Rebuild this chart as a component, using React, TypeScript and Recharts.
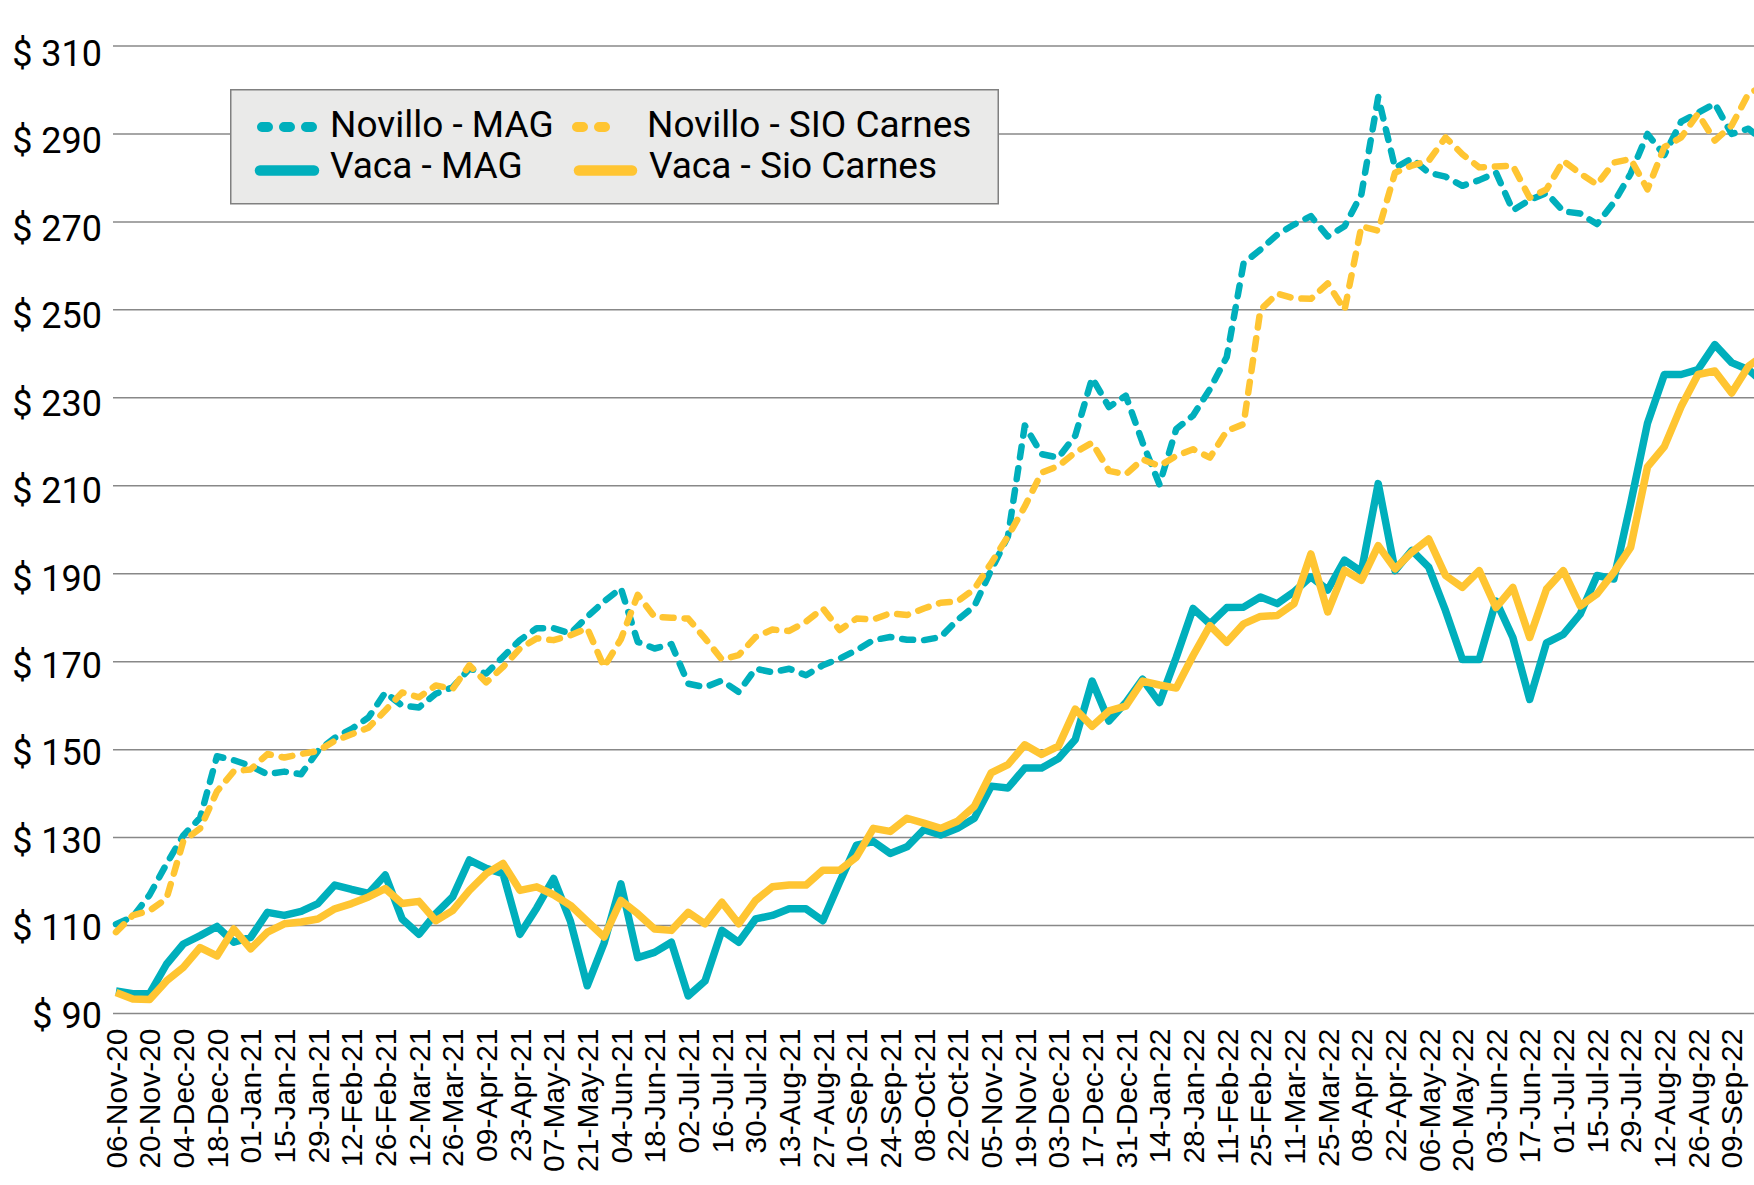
import React from 'react';
import { LineChart, Line, XAxis, YAxis, CartesianGrid, Legend } from 'recharts';

// weekly dates, only every second one gets a label
const dates = [
  '06-Nov-20', '13-Nov-20', '20-Nov-20', '27-Nov-20', '04-Dec-20', '11-Dec-20', '18-Dec-20', '25-Dec-20',
  '01-Jan-21', '08-Jan-21', '15-Jan-21', '22-Jan-21', '29-Jan-21', '05-Feb-21', '12-Feb-21', '19-Feb-21',
  '26-Feb-21', '05-Mar-21', '12-Mar-21', '19-Mar-21', '26-Mar-21', '02-Apr-21', '09-Apr-21', '16-Apr-21',
  '23-Apr-21', '30-Apr-21', '07-May-21', '14-May-21', '21-May-21', '28-May-21', '04-Jun-21', '11-Jun-21',
  '18-Jun-21', '25-Jun-21', '02-Jul-21', '09-Jul-21', '16-Jul-21', '23-Jul-21', '30-Jul-21', '06-Aug-21',
  '13-Aug-21', '20-Aug-21', '27-Aug-21', '03-Sep-21', '10-Sep-21', '17-Sep-21', '24-Sep-21', '01-Oct-21',
  '08-Oct-21', '15-Oct-21', '22-Oct-21', '29-Oct-21', '05-Nov-21', '12-Nov-21', '19-Nov-21', '26-Nov-21',
  '03-Dec-21', '10-Dec-21', '17-Dec-21', '24-Dec-21', '31-Dec-21', '07-Jan-22', '14-Jan-22', '21-Jan-22',
  '28-Jan-22', '04-Feb-22', '11-Feb-22', '18-Feb-22', '25-Feb-22', '04-Mar-22', '11-Mar-22', '18-Mar-22',
  '25-Mar-22', '01-Apr-22', '08-Apr-22', '15-Apr-22', '22-Apr-22', '29-Apr-22', '06-May-22', '13-May-22',
  '20-May-22', '27-May-22', '03-Jun-22', '10-Jun-22', '17-Jun-22', '24-Jun-22', '01-Jul-22', '08-Jul-22',
  '15-Jul-22', '22-Jul-22', '29-Jul-22', '05-Aug-22', '12-Aug-22', '19-Aug-22', '26-Aug-22', '02-Sep-22',
  '09-Sep-22', '16-Sep-22', '23-Sep-22',
];

// labelled dates (the last two weeks run past the right edge unlabelled)
const xTicks = [
  '06-Nov-20', '20-Nov-20', '04-Dec-20', '18-Dec-20', '01-Jan-21', '15-Jan-21', '29-Jan-21', '12-Feb-21',
  '26-Feb-21', '12-Mar-21', '26-Mar-21', '09-Apr-21', '23-Apr-21', '07-May-21', '21-May-21', '04-Jun-21',
  '18-Jun-21', '02-Jul-21', '16-Jul-21', '30-Jul-21', '13-Aug-21', '27-Aug-21', '10-Sep-21', '24-Sep-21',
  '08-Oct-21', '22-Oct-21', '05-Nov-21', '19-Nov-21', '03-Dec-21', '17-Dec-21', '31-Dec-21', '14-Jan-22',
  '28-Jan-22', '11-Feb-22', '25-Feb-22', '11-Mar-22', '25-Mar-22', '08-Apr-22', '22-Apr-22', '06-May-22',
  '20-May-22', '03-Jun-22', '17-Jun-22', '01-Jul-22', '15-Jul-22', '29-Jul-22', '12-Aug-22', '26-Aug-22',
  '09-Sep-22',
];

const novilloMag = [
  110.3, 112.0, 117.0, 124.0, 130.5, 134.5, 148.5, 147.6, 146.3, 144.4,
  145.0, 144.4, 149.7, 152.7, 154.7, 157.3, 163.0, 160.0, 159.6, 162.7,
  164.2, 168.4, 167.3, 171.1, 174.9, 177.6, 177.6, 176.4, 180.2, 183.7,
  186.7, 174.5, 173.0, 174.0, 165.0, 164.2, 165.7, 163.1, 168.4, 167.6,
  168.4, 166.9, 169.2, 170.7, 172.6, 174.9, 175.6, 175.0, 174.9, 175.6,
  179.5, 182.6, 190.8, 198.5, 223.7, 217.2, 216.4, 221.4, 234.5, 227.9,
  230.5, 219.8, 210.3, 222.9, 226.0, 232.0, 239.3, 260.6, 263.7, 267.1,
  269.4, 271.3, 266.7, 269.0, 276.3, 298.4, 282.3, 284.4, 281.2, 280.3,
  278.2, 279.5, 281.2, 272.6, 275.0, 276.6, 272.4, 271.9, 269.5, 274.4,
  281.0, 290.0, 285.2, 292.8, 294.8, 296.9, 290.0, 291.2, 288.0,
];

const novilloSio = [
  108.5, 112.3, 113.4, 116.1, 129.2, 132.1, 140.5, 145.1, 145.5, 149.0,
  148.2, 149.0, 149.7, 152.0, 153.5, 155.0, 158.9, 163.0, 161.9, 164.6,
  163.8, 169.2, 165.3, 168.8, 173.0, 175.3, 174.9, 176.0, 177.6, 168.8,
  175.1, 185.2, 180.2, 180.0, 179.8, 175.3, 170.5, 171.5, 175.6, 177.3,
  177.0, 179.1, 182.1, 177.2, 179.8, 179.6, 181.0, 180.6, 182.1, 183.4,
  183.7, 186.5, 192.4, 198.5, 205.3, 213.0, 214.5, 217.6, 219.8, 213.4,
  212.6, 216.0, 214.5, 216.8, 218.3, 216.4, 222.5, 224.0, 250.0, 253.7,
  252.6, 252.5, 256.0, 250.0, 269.0, 268.0, 281.2, 282.8, 283.9, 289.2,
  285.4, 282.4, 282.6, 282.8, 275.5, 277.4, 283.9, 281.0, 278.5, 283.5,
  284.3, 277.4, 287.0, 289.2, 294.6, 288.5, 291.9, 299.2, 301.0,
];

const vacaMag = [
  95.1, 94.5, 94.5, 101.2, 105.8, 107.7, 109.8, 106.2, 107.3, 113.0,
  112.3, 113.2, 115.0, 119.2, 118.2, 117.3, 121.5, 111.5, 108.0, 112.7,
  116.5, 124.9, 123.0, 121.8, 108.0, 114.0, 120.7, 111.0, 96.3, 106.0,
  119.5, 102.7, 103.9, 106.2, 94.0, 97.4, 108.9, 106.2, 111.5, 112.3,
  113.8, 113.8, 111.1, 119.9, 128.3, 129.1, 126.4, 127.9, 131.8, 130.6,
  132.1, 134.4, 141.7, 141.3, 145.8, 145.8, 148.0, 152.3, 165.6, 156.5,
  160.7, 166.0, 160.7, 171.0, 182.1, 178.6, 182.3, 182.4, 184.7, 183.2,
  185.9, 189.3, 186.3, 193.1, 190.5, 210.5, 190.7, 195.3, 191.5, 181.6,
  170.5, 170.5, 183.8, 175.5, 161.4, 174.3, 176.2, 180.8, 189.6, 188.8,
  206.0, 224.2, 235.3, 235.3, 236.4, 242.1, 238.0, 236.4, 233.0,
];

const vacaSio = [
  94.8, 93.3, 93.2, 97.4, 100.5, 105.0, 103.1, 109.2, 104.7, 108.5,
  110.4, 110.8, 111.5, 113.8, 115.0, 116.5, 118.4, 115.0, 115.5, 111.1,
  113.4, 118.0, 121.8, 124.1, 118.0, 118.8, 117.0, 114.6, 111.0, 107.4,
  115.7, 112.7, 109.2, 108.9, 113.0, 110.4, 115.3, 110.4, 115.7, 118.8,
  119.2, 119.2, 122.6, 122.6, 125.6, 132.1, 131.4, 134.4, 133.3, 132.1,
  133.7, 137.1, 144.7, 146.6, 151.1, 148.9, 150.8, 159.2, 155.3, 158.8,
  159.9, 165.6, 164.7, 164.0, 171.4, 178.2, 174.4, 178.6, 180.3, 180.5,
  183.2, 194.5, 181.3, 190.8, 188.5, 196.4, 191.1, 194.9, 197.9, 189.6,
  186.9, 190.7, 182.3, 186.9, 175.5, 186.5, 190.7, 182.7, 185.4, 190.3,
  196.0, 214.3, 218.9, 228.0, 235.3, 236.1, 231.1, 237.2, 240.0,
];

const yTicks = [90, 110, 130, 150, 170, 190, 210, 230, 250, 270, 290, 310];

const TEAL = '#00AFBC';
const GOLD = '#FFC532';

const data = dates.map((date, i) => ({
  date,
  novilloMag: novilloMag[i],
  novilloSio: novilloSio[i],
  vacaMag: vacaMag[i],
  vacaSio: vacaSio[i],
}));

const YTick = ({ x, y, payload }: any) => {
  // labels sit a little below their gridline, more so near the top
  const shift = 1.5 + (payload.value - 90) * 0.025;
  return (
    <text x={x} y={y} dy={12.8 + shift} textAnchor="end" fontFamily="Roboto" fontSize={36} fill="#000">
      {`$ ${payload.value}`}
    </text>
  );
};

const XTick = ({ x, y, payload }: any) => (
  <text
    x={x}
    y={y}
    transform={`rotate(-90, ${x}, ${y})`}
    dy="0.36em"
    textAnchor="end"
    fontFamily="'Liberation Sans', Arial"
    fontSize={30}
    fill="#000"
  >
    {payload.value}
  </text>
);

const legendText = { fontFamily: 'Roboto', fontSize: 37, fill: '#000' };

const LegendBox = () => (
  <svg width={770} height={116}>
    <rect x={0.75} y={0.75} width={767.5} height={114} fill="#EAEAE9" stroke="#808080" strokeWidth={1.5} />
    <line x1={32} y1={38} x2={84} y2={38} stroke={TEAL} strokeWidth={10} strokeLinecap="round" strokeDasharray="6 16" />
    <text x={100} y={47.5} {...legendText}>Novillo - MAG</text>
    <line x1={347} y1={38} x2={381} y2={38} stroke={GOLD} strokeWidth={10} strokeLinecap="round" strokeDasharray="6 16" />
    <text x={417} y={47.5} {...legendText}>Novillo - SIO Carnes</text>
    <line x1={30} y1={81.5} x2={84} y2={81.5} stroke={TEAL} strokeWidth={10.5} strokeLinecap="round" />
    <text x={100} y={89.2} {...legendText}>Vaca - MAG</text>
    <line x1={349} y1={81.5} x2={402} y2={81.5} stroke={GOLD} strokeWidth={10.5} strokeLinecap="round" />
    <text x={419} y={89.2} {...legendText}>Vaca - Sio Carnes</text>
  </svg>
);

export default function App() {
  return (
    <div style={{ position: 'absolute', left: 0, top: 0, width: 1754, height: 1185, overflow: 'hidden', background: '#fff' }}>
      <LineChart width={1800} height={1185} data={data} margin={{ top: 46, right: 31.7, bottom: 0, left: 0 }}>
        <CartesianGrid vertical={false} stroke="#888" strokeWidth={1.5} />
        <XAxis
          dataKey="date"
          ticks={xTicks}
          interval={0}
          padding={{ left: 3, right: 3 }}
          height={171.5}
          axisLine={false}
          tickLine={false}
          tickSize={0}
          tickMargin={15}
          tick={<XTick />}
        />
        <YAxis
          type="number"
          domain={[90, 310]}
          ticks={yTicks}
          interval={0}
          width={113}
          axisLine={false}
          tickLine={false}
          tickSize={0}
          tickMargin={11}
          tick={<YTick />}
        />
        <Legend
          layout="horizontal"
          verticalAlign="middle"
          align="center"
          content={() => <LegendBox />}
          wrapperStyle={{ left: 230, top: 89, width: 770, height: 116 }}
        />
        <Line type="linear" dataKey="novilloMag" stroke={TEAL} strokeWidth={6.5} strokeDasharray="11 11" strokeLinecap="round" strokeLinejoin="round" dot={false} activeDot={false} isAnimationActive={false} />
        <Line type="linear" dataKey="novilloSio" stroke={GOLD} strokeWidth={6.5} strokeDasharray="11 11" strokeLinecap="round" strokeLinejoin="round" dot={false} activeDot={false} isAnimationActive={false} />
        <Line type="linear" dataKey="vacaMag" stroke={TEAL} strokeWidth={7.5} strokeLinejoin="round" dot={false} activeDot={false} isAnimationActive={false} />
        <Line type="linear" dataKey="vacaSio" stroke={GOLD} strokeWidth={7.5} strokeLinejoin="round" dot={false} activeDot={false} isAnimationActive={false} />
      </LineChart>
    </div>
  );
}
